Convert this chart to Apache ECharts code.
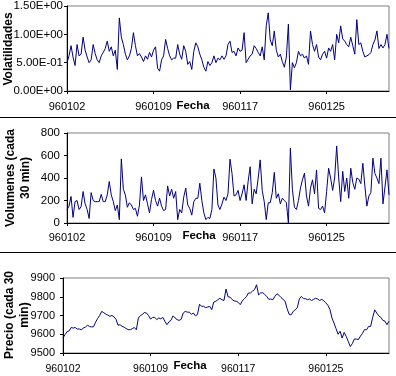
<!DOCTYPE html>
<html>
<head>
<meta charset="utf-8">
<script src="https://cdn.jsdelivr.net/npm/echarts@6/dist/echarts.min.js"></script>
<style>
  html, body { margin: 0; padding: 0; background: #fff; }
  #chart { width: 396px; height: 376px; }
</style>
</head>
<body>
<div id="chart"></div>
<script>
// tick labels on the date axis, one every 43 half-hour points
const tick_labels = ["960102", "960109", "960117", "960125"];
const tick_every = 43;

// volatilidades
const volatilidades = [
  0.50, 0.62, 0.80, 0.60, 0.45, 0.82, 0.62, 0.65, 0.95, 0.72,
  0.60, 0.50, 0.55, 0.82, 0.66, 0.55, 0.50, 0.62, 0.68, 0.75,
  0.88, 0.70, 0.78, 0.62, 0.72, 0.38, 1.29, 0.95, 0.82, 0.65,
  0.55, 0.62, 0.75, 1.03, 0.80, 0.62, 0.66, 0.60, 0.52, 0.62,
  0.56, 0.68, 0.60, 0.72, 0.78, 0.40, 0.35, 0.55, 0.62, 0.91,
  0.75, 0.62, 0.55, 0.58, 0.58, 0.82, 0.65, 0.56, 0.80, 0.70,
  0.47, 0.52, 0.38, 0.70, 0.85, 0.78, 0.65, 0.55, 0.42, 0.35,
  0.52, 0.45, 0.50, 0.62, 0.50, 0.58, 0.55, 0.62, 0.56, 0.62,
  0.82, 0.88, 0.68, 0.70, 0.62, 0.76, 0.70, 0.72, 1.03, 0.50,
  0.56, 0.62, 0.65, 0.80, 0.75, 0.68, 0.62, 0.78, 0.55, 1.15,
  1.38, 0.90, 0.80, 1.06, 0.72, 0.60, 0.65, 0.52, 0.42, 0.60,
  1.18, 0.02, 0.50, 0.41, 0.50, 0.70, 0.62, 0.65, 0.58, 0.62,
  0.47, 1.06, 0.82, 0.70, 0.82, 0.60, 0.55, 0.65, 0.70, 0.58,
  0.76, 0.70, 0.82, 0.55, 1.00, 0.85, 1.15, 0.92, 0.88, 0.82,
  0.78, 0.95, 0.80, 0.65, 1.26, 0.82, 0.85, 0.70, 0.60, 0.62,
  0.64, 0.68, 0.82, 0.90, 1.06, 0.75, 0.82, 0.76, 0.82, 1.00,
  0.75
];

// volumenes (cada 30 min)
const volumenes = [
  118, 150, 236, 50, 190, 200, 120, 145, 280, 170,
  120, 40, 270, 200, 190, 190, 190, 255, 190, 190,
  250, 369, 250, 190, 110, 160, 30, 570, 300, 250,
  140, 180, 160, 120, 130, 60, 160, 410, 200, 250,
  170, 90, 210, 290, 200, 150, 220, 150, 110, 120,
  330, 240, 300, 220, 280, 30, 120, 90, 230, 310,
  160, 130, 70, 190, 220, 220, 354, 200, 90, 30,
  50, 40, 120, 480, 399, 160, 120, 170, 230, 200,
  260, 567, 440, 240, 250, 290, 200, 260, 340, 200,
  370, 500, 170, 300, 260, 400, 561, 290, 190, 30,
  180, 180, 270, 450, 220, 260, 170, 220, 200, 180,
  0, 664, 300, 140, 120, 200, 310, 384, 443, 240,
  150, 310, 384, 260, 472, 130, 120, 150, 90, 280,
  487, 400, 290, 400, 685, 400, 190, 460, 280, 400,
  220, 487, 360, 300, 400, 390, 350, 531, 330, 150,
  240, 270, 576, 440, 400, 350, 576, 170, 320, 472,
  250
];

// precio (cada 30 min)
const precio = [
  9580, 9598, 9614, 9618, 9636, 9633, 9636, 9628, 9628, 9624,
  9633, 9638, 9648, 9642, 9639, 9640, 9665, 9684, 9700, 9722,
  9715, 9708, 9702, 9696, 9700, 9693, 9680, 9648, 9651, 9642,
  9638, 9630, 9625, 9624, 9630, 9636, 9624, 9687, 9700, 9706,
  9716, 9713, 9700, 9681, 9690, 9690, 9678, 9687, 9682, 9690,
  9669, 9651, 9666, 9675, 9698, 9687, 9678, 9674, 9680, 9713,
  9722, 9718, 9718, 9706, 9713, 9698, 9705, 9760, 9749, 9749,
  9742, 9745, 9749, 9731, 9772, 9776, 9784, 9792, 9784, 9780,
  9841, 9800, 9798, 9785, 9778, 9776, 9770, 9758, 9778, 9790,
  9800, 9820, 9820, 9830, 9838, 9864, 9810, 9820, 9822, 9812,
  9802, 9786, 9788, 9784, 9802, 9816, 9808, 9796, 9786, 9776,
  9736, 9706, 9704, 9722, 9731, 9742, 9788, 9802, 9790, 9790,
  9784, 9788, 9780, 9786, 9792, 9788, 9780, 9786, 9778, 9768,
  9754, 9733, 9687, 9660, 9630, 9600, 9616, 9580, 9610, 9588,
  9562, 9534, 9550, 9575, 9574, 9572, 9590, 9605, 9625, 9624,
  9642, 9642, 9690, 9730, 9713, 9698, 9690, 9674, 9670, 9651,
  9670
];

// one category per half hour; only every 43rd one gets a date shown
const fechas = volatilidades.map((_, i) =>
  i % tick_every === 0 ? tick_labels[i / tick_every] : String(i));

const FONT = "'Liberation Sans', Arial, sans-serif";
const NAVY = "#000080";

// 1.50E+00 style like excel
function sci(v) {
  if (v === 0) return "0.00E+00";
  const e = Math.floor(Math.log10(Math.abs(v)) + 1e-9);
  const m = v / Math.pow(10, e);
  return m.toFixed(2) + "E" + (e < 0 ? "-" : "+") + String(Math.abs(e)).padStart(2, "0");
}

// plain numbers, no thousands separator
const plain = (v) => String(v);

function xAx(gridIndex, margin, size) {
  return {
    type: "category", gridIndex, data: fechas, boundaryGap: false,
    axisLine: { lineStyle: { color: "#000", width: 1 } },
    axisTick: { interval: tick_every - 1, length: 3, lineStyle: { color: "#000" } },
    axisLabel: { interval: tick_every - 1, margin, color: "#000", fontSize: size, fontFamily: FONT },
    splitLine: { show: false }
  };
}

function yAx(gridIndex, min, max, interval, margin, size, formatter) {
  return {
    type: "value", gridIndex, min, max, interval,
    axisLine: { show: true, lineStyle: { color: "#000", width: 1 } },
    axisTick: { show: true, length: 3, lineStyle: { color: "#000" } },
    axisLabel: { margin, color: "#000", fontSize: size, fontFamily: FONT, formatter },
    splitLine: { show: false }
  };
}

function lineSeries(idx, data) {
  return {
    type: "line", xAxisIndex: idx, yAxisIndex: idx, data,
    showSymbol: false, symbol: "none",
    lineStyle: { color: NAVY, width: 1 }
  };
}

function sideText(x, y, text, size) {
  return {
    type: "text", x, y, rotation: Math.PI / 2,
    style: { text, fontFamily: FONT, fontWeight: "bold", fontSize: size, lineHeight: 15,
             fill: "#000", align: "center", verticalAlign: "middle" }
  };
}

function fechaText(x, y) {
  return {
    type: "text", x, y,
    style: { text: "Fecha", fontFamily: FONT, fontWeight: "bold", fontSize: 11.5,
             fill: "#000", align: "center", verticalAlign: "middle" }
  };
}

const chart = echarts.init(document.getElementById("chart"), null, { renderer: "canvas" });

const grid_style = { show: true, borderColor: "#808080", borderWidth: 1, backgroundColor: "transparent" };

chart.setOption({
  animation: false,
  grid: [
    Object.assign({ left: 67, top: 6, width: 322, height: 85 }, grid_style),
    Object.assign({ left: 67, top: 133, width: 322, height: 90 }, grid_style),
    Object.assign({ left: 63, top: 278, width: 326, height: 75 }, grid_style)
  ],
  xAxis: [xAx(0, 10, 11), xAx(1, 9, 11), xAx(2, 11, 10.5)],
  yAxis: [
    yAx(0, 0, 1.5, 0.5, 4, 11.5, sci),
    yAx(1, 0, 800, 200, 7, 11.5, plain),
    yAx(2, 9500, 9900, 100, 8, 11, plain)
  ],
  series: [
    lineSeries(0, volatilidades),
    lineSeries(1, volumenes),
    lineSeries(2, precio)
  ],
  graphic: [
    sideText(9, 49, "Volatilidades", 12),
    sideText(18, 178, "Volumenes (cada\n30 min)", 12),
    sideText(17, 315, "Precio (cada 30\nmin)", 12),
    fechaText(193, 106),
    fechaText(199, 236),
    fechaText(190, 366),
    // chart frame edges between the panels
    { type: "line", shape: { x1: 0, y1: 117.5, x2: 396, y2: 117.5 }, style: { stroke: "#000", lineWidth: 1 } },
    { type: "line", shape: { x1: 0, y1: 252.5, x2: 396, y2: 252.5 }, style: { stroke: "#000", lineWidth: 1 } }
  ]
});
</script>
</body>
</html>
